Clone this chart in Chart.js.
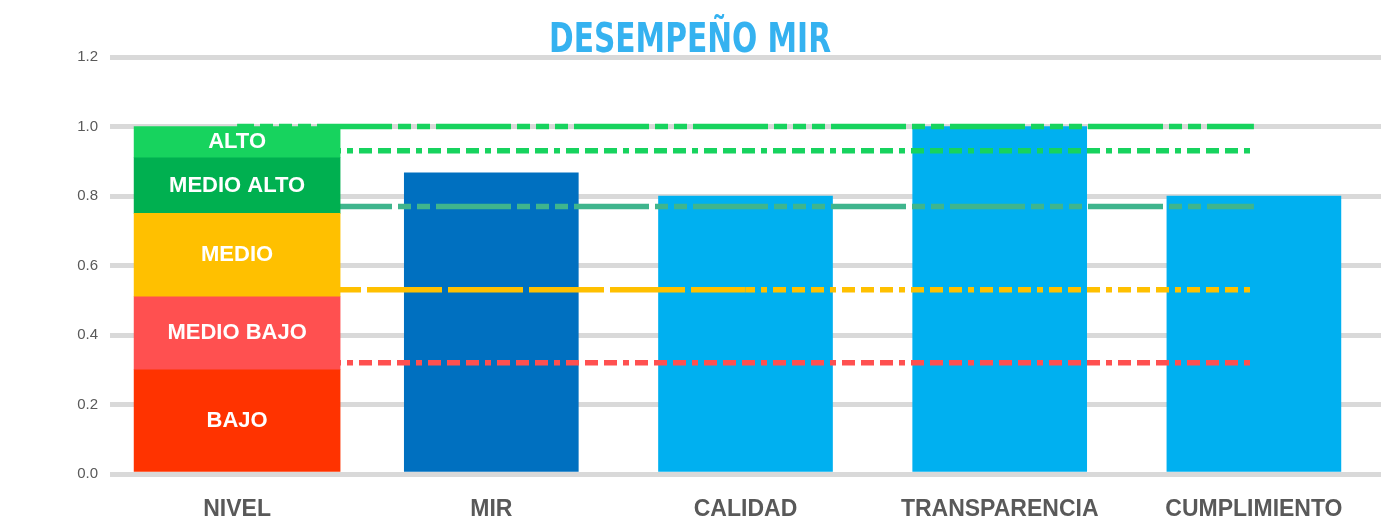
<!DOCTYPE html>
<html><head><meta charset="utf-8">
<script src="https://cdn.jsdelivr.net/npm/chart.js@4.4.1/dist/chart.umd.min.js"></script>
<style>html,body{margin:0;padding:0;background:#fff;} canvas{display:block;}</style>
</head><body>
<canvas id="c" width="1389" height="520"></canvas>
<script>
// ---- data ----
const chartTitle = 'DESEMPEÑO MIR';
const categories = ['NIVEL', 'MIR', 'CALIDAD', 'TRANSPARENCIA', 'CUMPLIMIENTO'];
const levelNames = ['BAJO', 'MEDIO BAJO', 'MEDIO', 'MEDIO ALTO', 'ALTO'];
const levelBands = [0.30, 0.21, 0.24, 0.16, 0.09];
const scores = [null, 0.867, 0.80, 1.00, 0.80];
const thresholds = [0.32, 0.53, 0.77, 0.93, 1.00];
const yMin = 0, yMax = 1.2, yStep = 0.2;

// ---- styles ----
const levelColors = ['#FF3300', '#FF5050', '#FFC000', '#00B050', '#17D35E'];
const lineColors = ['#FF5050', '#FFC000', '#3FB58D', '#17D35E', '#17D35E'];
const scoreColors = ['#00B0F0', '#0070C0', '#00B0F0', '#00B0F0', '#00B0F0'];
const dashA = [13, 6, 13, 6, 13, 6, 6, 6];
const dashP = [75, 6, 13, 6, 13, 6, 13, 6, 75, 6, 13, 6, 13, 6];
const dashLong = [75, 6];
const lineDash = [
  {dash: dashA, off: 16.1},
  {dash: dashA, off: 41.5, first: dashLong, firstOff: 32.1},
  {dash: dashP, off: 58.1},
  {dash: dashA, off: 16.1},
  {dash: dashP, off: 58.1}
];

const datasets = [];
levelNames.forEach((name, i) => {
  datasets.push({
    type: 'bar', label: name,
    data: categories.map((_, k) => k === 0 ? levelBands[i] : null),
    backgroundColor: levelColors[i], barThickness: 206, order: 0, isLevel: true
  });
});
thresholds.forEach((t, i) => {
  const d = lineDash[i];
  const ds = {
    type: 'line', label: levelNames[i] + ' umbral',
    data: categories.map(() => t),
    borderColor: lineColors[i], borderWidth: 5.5, borderCapStyle: 'butt',
    borderDash: d.dash, borderDashOffset: d.off,
    pointRadius: 0, fill: false, tension: 0, stack: 'th' + i, order: 1
  };
  if (d.first) {
    ds.segment = {
      borderDash: ctx => ctx.p0DataIndex < 2 ? d.first : d.dash,
      borderDashOffset: ctx => ctx.p0DataIndex < 2 ? d.firstOff : d.off
    };
  }
  datasets.push(ds);
});
datasets.push({
  type: 'bar', label: 'Desempeño', data: scores,
  backgroundColor: scoreColors, barThickness: 174, order: 2
});

const titlePlugin = {
  id: 'titleText',
  afterDraw(chart) {
    const ctx = chart.ctx;
    ctx.save();
    ctx.font = 'bold 40px "Liberation Sans Narrow", "DejaVu Sans Condensed", sans-serif';
    ctx.fillStyle = '#35B2F0';
    ctx.textAlign = 'center';
    ctx.textBaseline = 'alphabetic';
    const w = ctx.measureText(chartTitle).width;
    const sx = Math.min(1, 282 / w);
    ctx.translate(690, 52);
    ctx.scale(sx, 1);
    ctx.fillText(chartTitle, 0, 0);
    ctx.restore();
  }
};
const levelLabelPlugin = {
  id: 'levelLabels',
  afterDatasetsDraw(chart) {
    const ctx = chart.ctx;
    ctx.save();
    ctx.font = 'bold 22px "Liberation Sans", Arial, sans-serif';
    ctx.fillStyle = '#FFFFFF';
    ctx.textAlign = 'center';
    ctx.textBaseline = 'middle';
    chart.data.datasets.forEach((ds, i) => {
      if (!ds.isLevel) return;
      const el = chart.getDatasetMeta(i).data[0];
      if (!el) return;
      ctx.fillText(ds.label, el.x, (el.y + el.base) / 2);
    });
    ctx.restore();
  }
};

new Chart(document.getElementById('c'), {
  data: {labels: categories, datasets},
  options: {
    responsive: false, animation: false,
    layout: {padding: {top: 57, right: 8, left: 0, bottom: 0}},
    plugins: {legend: {display: false}, tooltip: {enabled: false}, title: {display: false}},
    scales: {
      x: {
        stacked: true,
        grid: {display: false}, border: {display: false},
        ticks: {color: '#595959', font: {family: '"Liberation Sans", Arial, sans-serif', size: 23, weight: 'bold'}, padding: 14, maxRotation: 0},
        afterFit: s => { s.height = 46; }
      },
      y: {
        stacked: true, min: yMin, max: yMax,
        grid: {color: '#D9D9D9', lineWidth: 5, drawTicks: false}, border: {display: false},
        ticks: {stepSize: yStep, color: '#595959', padding: 12,
          font: {family: '"Liberation Sans", Arial, sans-serif', size: 15},
          callback: v => Number(v).toFixed(1)},
        afterFit: s => { s.width = 110; }
      }
    }
  },
  plugins: [titlePlugin, levelLabelPlugin]
});
</script>
</body></html>
